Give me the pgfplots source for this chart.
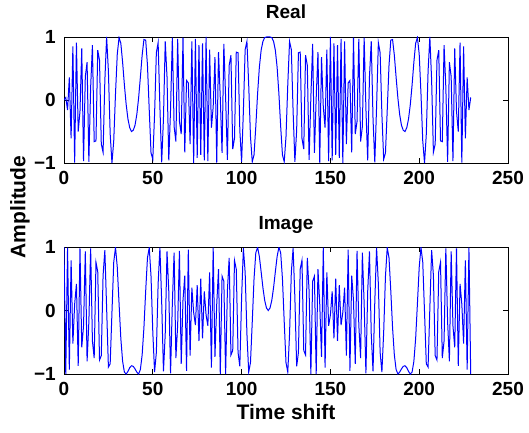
\documentclass[border=0pt]{standalone}
\usepackage{pgfplots}
\pgfplotsset{compat=1.18}
\usepackage{pgfplotstable}
\usepackage{fontspec}
\setmainfont{Liberation Sans}

% Polyphase sequence, n = 0..229: real and imaginary parts
\pgfplotstableread{
n re im
0 0.00 1.00
1 0.04 -1.00
2 -0.16 0.99
3 0.36 -0.93
4 -0.61 0.79
5 0.85 -0.52
6 -0.995 0.10
7 0.91 0.42
8 -0.50 -0.87
9 -0.18 0.98
10 0.82 -0.58
11 -0.97 -0.24
12 0.37 0.93
13 0.60 -0.80
14 -0.98 -0.18
15 0.20 0.98
16 0.87 -0.48
17 -0.66 -0.75
18 -0.65 0.76
19 0.79 0.61
20 0.63 -0.78
21 -0.70 -0.71
22 -0.83 0.55
23 0.31 0.95
24 1.00 0.04
25 0.46 -0.89
26 -0.54 -0.84
27 -1.00 -0.03
28 -0.65 0.76
29 0.10 0.995
30 0.73 0.68
31 0.99 0.11
32 0.90 -0.44
33 0.60 -0.80
34 0.24 -0.97
35 -0.07 -1.00
36 -0.30 -0.96
37 -0.44 -0.90
38 -0.50 -0.87
39 -0.48 -0.88
40 -0.40 -0.92
41 -0.23 -0.97
42 0.03 -1.00
43 0.36 -0.93
44 0.71 -0.70
45 0.96 -0.27
46 0.95 0.31
47 0.55 0.83
48 -0.16 0.99
49 -0.84 0.54
50 -0.94 -0.34
51 -0.23 -0.97
52 0.75 -0.66
53 0.91 0.42
54 -0.11 0.99
55 -0.99 0.14
56 -0.30 -0.96
57 0.93 -0.37
58 0.37 0.93
59 -0.96 0.30
60 -0.14 -0.99
61 0.99 0.11
62 -0.42 0.91
63 -0.66 -0.75
64 0.97 -0.23
65 -0.34 0.94
66 -0.54 -0.84
67 0.99 0.16
68 -0.83 0.55
69 0.31 -0.95
70 0.27 0.96
71 -0.70 -0.71
72 0.93 0.36
73 -1.00 -0.03
74 0.97 -0.23
75 -0.92 0.40
76 0.87 -0.48
77 -0.87 0.50
78 0.90 -0.44
79 -0.96 0.30
80 1.00 -0.07
81 -0.97 -0.24
82 0.80 0.60
83 -0.44 -0.90
84 -0.11 0.99
85 0.68 -0.73
86 -0.995 0.10
87 0.76 0.65
88 0.03 -1.00
89 -0.84 0.54
90 0.89 0.46
91 0.04 -1.00
92 -0.95 0.31
93 0.55 0.83
94 0.71 -0.70
95 -0.78 -0.63
96 -0.61 0.79
97 0.76 0.65
98 0.75 -0.66
99 -0.48 -0.88
100 -0.98 0.20
101 -0.18 0.98
102 0.80 0.60
103 0.93 -0.37
104 0.24 -0.97
105 -0.58 -0.82
106 -0.98 -0.18
107 -0.87 0.50
108 -0.42 0.91
109 0.10 0.995
110 0.52 0.85
111 0.79 0.61
112 0.93 0.36
113 0.99 0.16
114 1.00 0.04
115 1.00 0.00
116 1.00 0.04
117 0.99 0.16
118 0.93 0.36
119 0.79 0.61
120 0.52 0.85
121 0.10 0.995
122 -0.42 0.91
123 -0.87 0.50
124 -0.98 -0.18
125 -0.58 -0.82
126 0.24 -0.97
127 0.93 -0.37
128 0.80 0.60
129 -0.18 0.98
130 -0.98 0.20
131 -0.48 -0.88
132 0.75 -0.66
133 0.76 0.65
134 -0.61 0.79
135 -0.78 -0.63
136 0.71 -0.70
137 0.55 0.83
138 -0.95 0.31
139 0.04 -1.00
140 0.89 0.46
141 -0.84 0.54
142 0.03 -1.00
143 0.76 0.65
144 -0.995 0.10
145 0.68 -0.73
146 -0.11 0.99
147 -0.44 -0.90
148 0.80 0.60
149 -0.97 -0.24
150 1.00 -0.07
151 -0.96 0.30
152 0.90 -0.44
153 -0.87 0.50
154 0.87 -0.48
155 -0.92 0.40
156 0.97 -0.23
157 -1.00 -0.03
158 0.93 0.36
159 -0.70 -0.71
160 0.27 0.96
161 0.31 -0.95
162 -0.83 0.55
163 0.99 0.16
164 -0.54 -0.84
165 -0.34 0.94
166 0.97 -0.23
167 -0.66 -0.75
168 -0.42 0.91
169 0.99 0.11
170 -0.14 -0.99
171 -0.96 0.30
172 0.37 0.93
173 0.93 -0.37
174 -0.30 -0.96
175 -0.99 0.14
176 -0.11 0.99
177 0.91 0.42
178 0.75 -0.66
179 -0.23 -0.97
180 -0.94 -0.34
181 -0.84 0.54
182 -0.16 0.99
183 0.55 0.83
184 0.95 0.31
185 0.96 -0.27
186 0.71 -0.70
187 0.36 -0.93
188 0.03 -1.00
189 -0.23 -0.97
190 -0.40 -0.92
191 -0.48 -0.88
192 -0.50 -0.87
193 -0.44 -0.90
194 -0.30 -0.96
195 -0.07 -1.00
196 0.24 -0.97
197 0.60 -0.80
198 0.90 -0.44
199 0.99 0.11
200 0.73 0.68
201 0.10 0.995
202 -0.65 0.76
203 -1.00 -0.03
204 -0.54 -0.84
205 0.46 -0.89
206 1.00 0.04
207 0.31 0.95
208 -0.83 0.55
209 -0.70 -0.71
210 0.63 -0.78
211 0.79 0.61
212 -0.65 0.76
213 -0.66 -0.75
214 0.87 -0.48
215 0.20 0.98
216 -0.98 -0.18
217 0.60 -0.80
218 0.37 0.93
219 -0.97 -0.24
220 0.82 -0.58
221 -0.18 0.98
222 -0.50 -0.87
223 0.91 0.42
224 -0.995 0.10
225 0.85 -0.52
226 -0.61 0.79
227 0.36 -0.93
228 -0.16 0.99
229 0.04 -1.00
}\sig

\pgfplotsset{
  panel/.style={
    scale only axis, width=444pt,
    xmin=0, xmax=250, ymin=-1, ymax=1,
    xtick={0,50,100,150,200,250},
    ytick={-1,0,1}, yticklabels={−1,0,1},
    tick align=inside, major tick length=5pt,
    axis line style={line width=0.9pt},
    every tick/.style={black, line width=0.9pt},
    /pgf/number format/assume math mode=true,
    tick label style={font=\bfseries\fontsize{19}{19}\selectfont},
    xticklabel style={anchor=base, yshift=-21pt},
    yticklabel style={anchor=east, inner sep=0pt, xshift=-8pt},
    title style={at={(0.5,1)}, anchor=base, yshift=12pt,
      font=\bfseries\fontsize{19}{19}\selectfont},
  },
  sig/.style={blue, line width=1pt, mark=none},
}

\begin{document}
\begin{tikzpicture}
\path[use as bounding box] (0,0) rectangle (529pt,432pt);

\begin{axis}[panel, height=126pt, at={(64pt,395pt)}, anchor=north west,
  title={Real}]
  \addplot[sig] table[x=n, y=re] {\sig};
\end{axis}

\begin{axis}[panel, height=127pt, at={(64pt,185pt)}, anchor=north west,
  title={Image},
  xlabel={Time shift},
  xlabel style={at={(axis description cs:0.5,0)}, anchor=base, yshift=-45pt,
    font=\bfseries\fontsize{21}{21}\selectfont}]
  \addplot[sig] table[x=n, y=im] {\sig};
\end{axis}

\node[rotate=90, font=\bfseries\fontsize{21}{21}\selectfont]
  at (20pt,225pt) {Amplitude};
\end{tikzpicture}
\end{document}
